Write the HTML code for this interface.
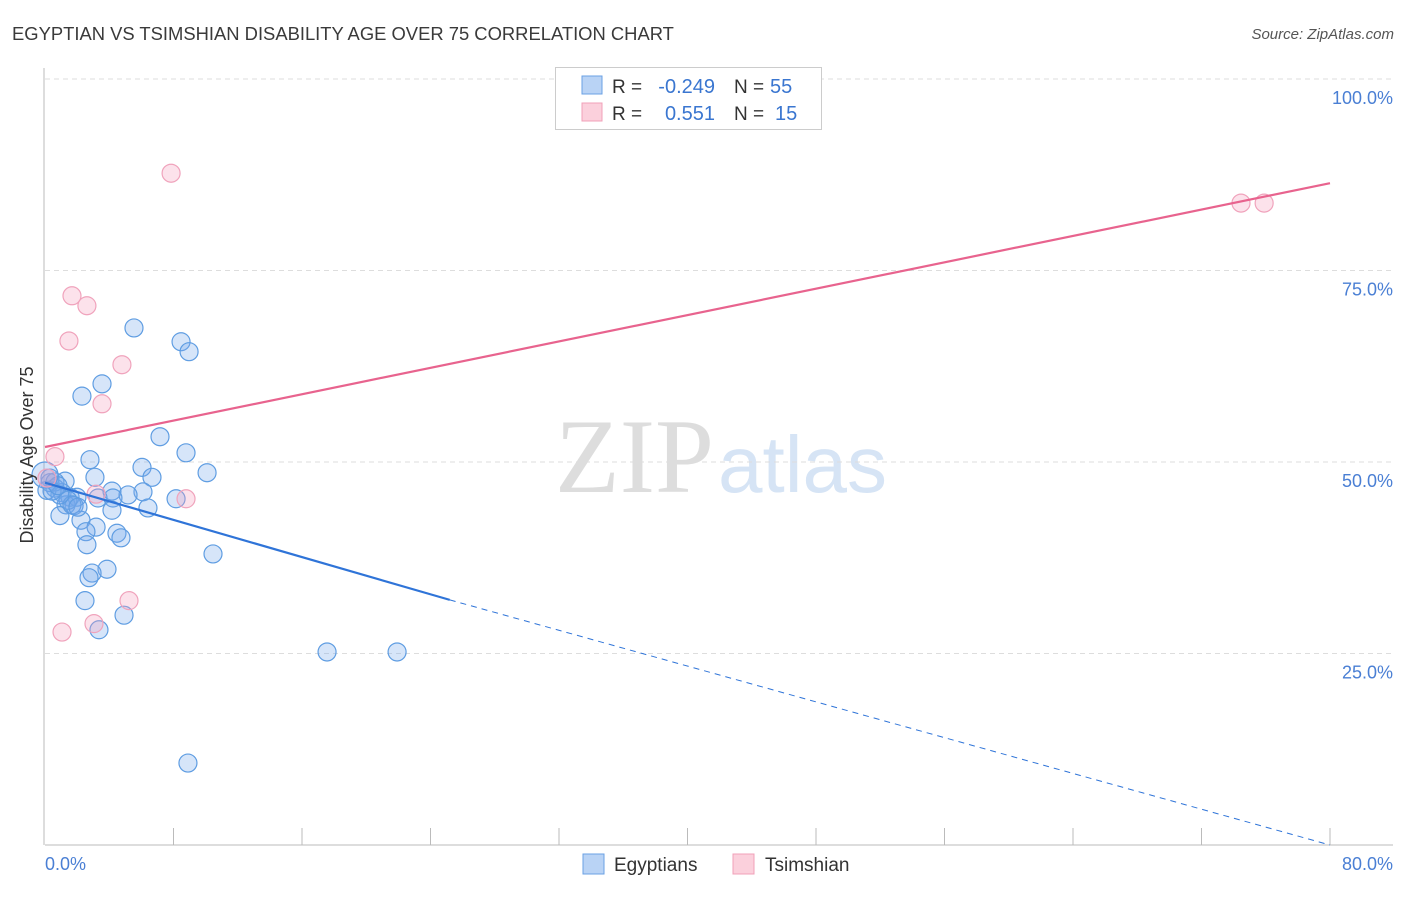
<!DOCTYPE html>
<html><head><meta charset="utf-8"><style>
body{margin:0;background:#fff;font-family:"Liberation Sans",sans-serif;}
</style></head><body>
<svg width="1406" height="892" xmlns="http://www.w3.org/2000/svg" style="font-family:'Liberation Sans',sans-serif">
<text x="12" y="40" font-size="18.4" fill="#3a3a3a">EGYPTIAN VS TSIMSHIAN DISABILITY AGE OVER 75 CORRELATION CHART</text>
<text x="1394" y="39" font-size="15" fill="#555" font-style="italic" text-anchor="end">Source: ZipAtlas.com</text>
<text x="714" y="492" font-size="106" fill="#ddd" font-family="Liberation Serif" text-anchor="end">ZIP</text>
<text x="718" y="492" font-size="80" fill="#d6e4f5">atlas</text>
<g id="grid"></g>
<g id="axes"></g>
<g id="marks"></g>
<text x="33" y="455" font-size="18" fill="#333" text-anchor="middle" transform="rotate(-90 33 455)">Disability Age Over 75</text>
<text x="45" y="870" font-size="18" fill="#4a7fd4">0.0%</text>
<text x="1393" y="870" font-size="18" fill="#4a7fd4" text-anchor="end">80.0%</text>
<g>
<rect x="555.5" y="67.5" width="266" height="62" fill="#fff" stroke="#ccc"/>
<rect x="582" y="76" width="20" height="18" fill="#b9d3f5" stroke="#6aa0e4"/>
<rect x="582" y="103" width="20" height="18" fill="#fbd0dc" stroke="#f0a0b8"/>
<text x="612" y="93" font-size="19" fill="#333">R =</text>
<text x="715" y="93" font-size="20" fill="#3a76d0" text-anchor="end">-0.249</text>
<text x="734" y="93" font-size="19" fill="#333">N =</text>
<text x="770" y="93" font-size="20" fill="#3a76d0">55</text>
<text x="612" y="120" font-size="19" fill="#333">R =</text>
<text x="715" y="120" font-size="20" fill="#3a76d0" text-anchor="end">0.551</text>
<text x="734" y="120" font-size="19" fill="#333">N =</text>
<text x="775" y="120" font-size="20" fill="#3a76d0">15</text>
</g>
<g>
<rect x="583" y="854" width="21" height="20" fill="#b9d3f5" stroke="#6aa0e4"/>
<text x="614" y="871" font-size="19" fill="#333">Egyptians</text>
<rect x="733" y="854" width="21" height="20" fill="#fbd0dc" stroke="#f0a0b8"/>
<text x="765" y="871" font-size="19" fill="#333">Tsimshian</text>
</g>
</svg>
<script>
const yTicks=[25,50,75,100];
const yTickLabels=["25.0%","50.0%","75.0%","100.0%"];
const blueX=[5.54,8.47,8.97,3.55,2.30,7.16,8.78,2.80,6.04,10.09,6.66,3.11,1.25,0.31,0.62,1.06,1.56,1.99,4.17,6.10,5.17,3.30,4.23,8.16,1.31,1.81,6.41,4.17,0.93,2.24,3.18,2.55,4.48,4.73,2.61,10.46,3.86,2.93,2.74,2.49,4.92,3.36,17.56,21.92,8.90,0.31,0.12,0.62,1.43,1.68,0.93,0.44,0.81,0,2.05];
const blueY=[67.5,65.7,64.4,60.2,58.6,53.3,51.2,50.3,49.3,48.6,48.0,48.0,47.5,47.9,46.6,46.0,45.4,45.4,46.2,46.1,45.7,45.3,45.3,45.2,44.4,44.3,44.0,43.7,43.0,42.4,41.5,40.9,40.7,40.1,39.2,38.0,36.0,35.5,34.9,31.9,30.0,28.1,25.2,25.2,10.7,47.3,46.3,47.4,45.0,44.4,45.7,46.2,46.9,48.3,44.1];
const pinkX=[7.85,1.68,2.61,1.49,4.79,3.55,0.62,3.18,8.78,5.23,3.05,1.06,74.46,75.9,0.12];
const pinkY=[87.7,71.7,70.4,65.8,62.7,57.6,50.7,45.8,45.2,31.9,28.9,27.8,83.8,83.8,47.9];
const pinkLine=[[0,51.96],[80,86.4]];
const blueLineSolid=[[0,47.3],[25.2,32.0]];
const blueLineDash=[[25.2,32.0],[80,0]];
const NS="http://www.w3.org/2000/svg";
const sx=v=>45+v/80*1285, sy=v=>845-v/100*766;
function mk(tag,attrs,parent){const e=document.createElementNS(NS,tag);for(const k in attrs)e.setAttribute(k,attrs[k]);document.getElementById(parent).appendChild(e);return e;}
yTicks.forEach((t,i)=>{
 const g=mk('line',{x1:45,x2:1393,y1:sy(t),y2:sy(t),stroke:'#ddd','stroke-dasharray':'5,4'},'grid');
 
 
 const l=mk('text',{x:1393,y:sy(t)+25,'font-size':18,fill:'#4a7fd4','text-anchor':'end'},'grid');
 l.textContent=yTickLabels[i];
 
 
});
const ax=mk('line',{x1:45,x2:1393,y1:845,y2:845,stroke:'#bbb'},'axes');


const ay=mk('line',{x1:44,x2:44,y1:68,y2:845,stroke:'#bbb'},'axes');


for(let k=1;k<=10;k++){const t=mk('line',{x1:sx(k*8),x2:sx(k*8),y1:828,y2:845,stroke:'#bbb'},'axes');
 
 }
function line(p,color,dash,name,w){const l=mk('line',{x1:sx(p[0][0]),y1:sy(p[0][1]),x2:sx(p[1][0]),y2:sy(p[1][1]),stroke:color,'stroke-width':w},'marks');if(dash)l.setAttribute('stroke-dasharray',dash);
 
 }
blueX.forEach((x,i)=>{const c=mk('circle',{cx:sx(x),cy:sy(blueY[i]),r:i==53?13:9,fill:'rgba(120,170,235,0.3)',stroke:'#5f9de2','stroke-width':1.2},'marks');
 
 });
pinkX.forEach((x,i)=>{const c=mk('circle',{cx:sx(x),cy:sy(pinkY[i]),r:9,fill:'rgba(245,160,190,0.3)',stroke:'#f0a3bc','stroke-width':1.2},'marks');
 
 });
line(pinkLine,'#e8638e',null,'tsimshian-trendline',2.2);
line(blueLineSolid,'#2f74d8',null,'egyptians-trendline',2.2);
line(blueLineDash,'#2f74d8','6,5','egyptians-trendline-extension',1);
</script>
</body></html>
